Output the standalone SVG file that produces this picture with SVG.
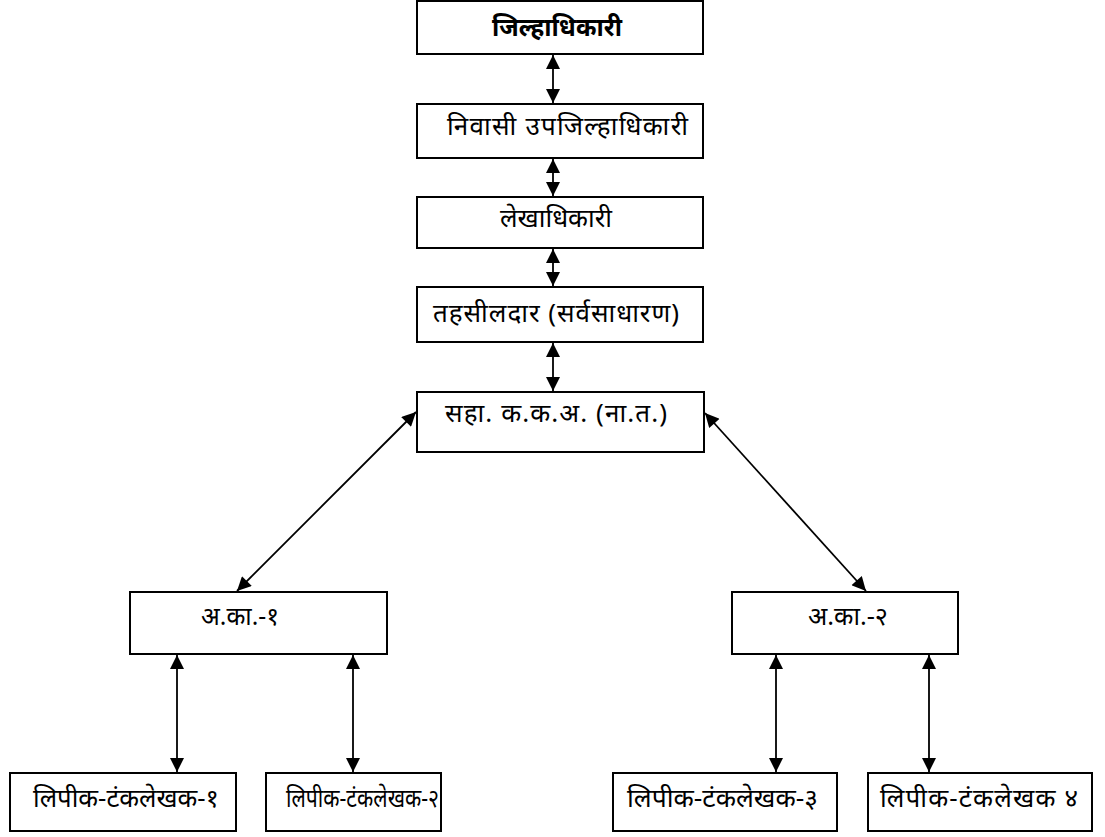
<svg xmlns="http://www.w3.org/2000/svg" width="1105" height="837" viewBox="0 0 1105 837">
<style>
.box{fill:#fff;stroke:#000;stroke-width:2}
.t{font-family:"Noto Sans","Noto Sans Devanagari","Lohit Devanagari",sans-serif;font-size:26px;fill:#000}
.b{font-weight:bold}
.c line{stroke:#000;stroke-width:1.8}
</style>
<defs>
<marker id="ah" viewBox="0 0 10 10" refX="10" refY="5" markerWidth="17" markerHeight="14" markerUnits="userSpaceOnUse" orient="auto-start-reverse">
<path d="M0,0 L10,5 L0,10 z" fill="#000"/>
</marker>
</defs>
<g id="n1"><rect class="box" x="417" y="1" width="286" height="53"/><text class="t b" x="492" y="36" textLength="130" lengthAdjust="spacingAndGlyphs">जिल्हाधिकारी</text></g>
<g id="n2"><rect class="box" x="417" y="104" width="286" height="54"/><text class="t" x="447" y="135" textLength="241" lengthAdjust="spacing">निवासी उपजिल्हाधिकारी</text></g>
<g id="n3"><rect class="box" x="417" y="197" width="286" height="51"/><text class="t" x="500" y="227" textLength="112" lengthAdjust="spacingAndGlyphs">लेखाधिकारी</text></g>
<g id="n4"><rect class="box" x="417" y="287" width="286" height="55"/><text class="t" x="433" y="322" textLength="246" lengthAdjust="spacing">तहसीलदार (सर्वसाधारण)</text></g>
<g id="n5"><rect class="box" x="417" y="392" width="287" height="60"/><text class="t" x="445" y="422" textLength="222" lengthAdjust="spacing">सहा. क.क.अ. (ना.त.)</text></g>
<g id="n6"><rect class="box" x="130" y="592" width="257" height="62"/><text class="t" x="201" y="625" textLength="78" lengthAdjust="spacingAndGlyphs">अ.का.-१</text></g>
<g id="n7"><rect class="box" x="732" y="592" width="226" height="62"/><text class="t" x="808" y="625" textLength="80" lengthAdjust="spacingAndGlyphs">अ.का.-२</text></g>
<g id="n8"><rect class="box" x="10" y="773" width="226" height="58"/><text class="t" x="33" y="807" textLength="186" lengthAdjust="spacingAndGlyphs">लिपीक-टंकलेखक-१</text></g>
<g id="n9"><rect class="box" x="266" y="773" width="175" height="58"/><text class="t" x="286" y="807" textLength="153" lengthAdjust="spacingAndGlyphs">लिपीक-टंकलेखक-२</text></g>
<g id="n10"><rect class="box" x="613" y="773" width="224" height="58"/><text class="t" x="627" y="807" textLength="191" lengthAdjust="spacingAndGlyphs">लिपीक-टंकलेखक-३</text></g>
<g id="n11"><rect class="box" x="868" y="773" width="224" height="58"/><text class="t" x="880" y="807" textLength="198" lengthAdjust="spacing">लिपीक-टंकलेखक ४</text></g>
<g id="connectors" class="c">
<line x1="553" y1="55" x2="553" y2="103" marker-start="url(#ah)" marker-end="url(#ah)"/>
<line x1="553" y1="159" x2="553" y2="196" marker-start="url(#ah)" marker-end="url(#ah)"/>
<line x1="553" y1="249" x2="553" y2="286" marker-start="url(#ah)" marker-end="url(#ah)"/>
<line x1="553" y1="343" x2="553" y2="391" marker-start="url(#ah)" marker-end="url(#ah)"/>
<line x1="416" y1="412" x2="237" y2="591" marker-start="url(#ah)" marker-end="url(#ah)"/>
<line x1="705" y1="413" x2="866" y2="591" marker-start="url(#ah)" marker-end="url(#ah)"/>
<line x1="177" y1="655" x2="177" y2="772" marker-start="url(#ah)" marker-end="url(#ah)"/>
<line x1="353" y1="655" x2="353" y2="772" marker-start="url(#ah)" marker-end="url(#ah)"/>
<line x1="776" y1="655" x2="776" y2="772" marker-start="url(#ah)" marker-end="url(#ah)"/>
<line x1="929" y1="655" x2="929" y2="772" marker-start="url(#ah)" marker-end="url(#ah)"/>
</g>
</svg>
